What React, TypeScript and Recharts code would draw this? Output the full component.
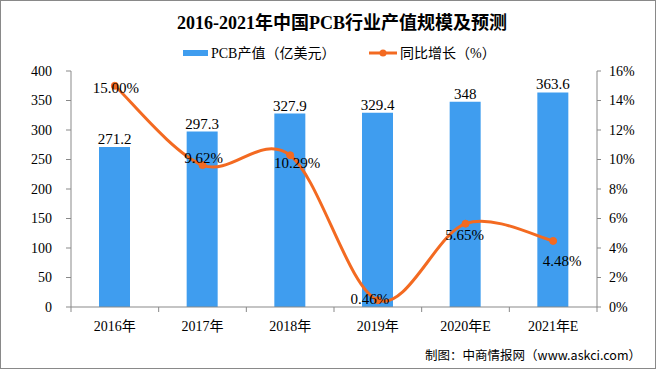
import React from 'react';
import { ComposedChart, Bar, Line, XAxis, YAxis, LabelList } from 'recharts';

const years = ['2016年', '2017年', '2018年', '2019年', '2020年E', '2021年E'];
const pcbValues = [271.2, 297.3, 327.9, 329.4, 348, 363.6];
const growthPct = [15.0, 9.62, 10.29, 0.46, 5.65, 4.48];
const leftTicks = [0, 50, 100, 150, 200, 250, 300, 350, 400];
const rightTicks = [0, 2, 4, 6, 8, 10, 12, 14, 16];

const titleText = '2016-2021年中国PCB行业产值规模及预测';
const legendBar = 'PCB产值（亿美元）';
const legendLine = '同比增长（%）';
const footerText = '制图：中商情报网（www.askci.com）';

// label nudges (dx, dy) for the growth labels, relative to each point
const growthLabelNudge = [
  [1, 2],
  [1, -7],
  [7, 8],
  [-8, -1],
  [-1, 11],
  [9, 20],
];

const W = 657;
const H = 371;
const M_TOP = 71;
const M_BOTTOM = 34;
const X_H = 30;
const LEFT_W = 71;
const RIGHT_W = 60;
const PLOT_BOTTOM = H - M_BOTTOM - X_H;
const BAND = (W - LEFT_W - RIGHT_W) / years.length;

const BAR_COLOR = '#3F9DEF';
const LINE_COLOR = '#F36A21';
const AXIS_COLOR = '#898989';
const SERIF = "'Liberation Serif', 'Noto Sans CJK SC', serif";

const data = years.map((y, i) => ({ year: y, pcb: pcbValues[i], growth: growthPct[i] }));

const excelCurve = (context: any) => {
  let pts: number[][] = [];
  return {
    areaStart() {},
    areaEnd() {},
    lineStart() {
      pts = [];
    },
    lineEnd() {
      const n = pts.length;
      if (!n) return;
      context.moveTo(pts[0][0], pts[0][1]);
      for (let i = 0; i < n - 1; i++) {
        const p0 = pts[i - 1] || pts[i];
        const p1 = pts[i];
        const p2 = pts[i + 1];
        const p3 = pts[i + 2] || p2;
        context.bezierCurveTo(
          p1[0] + (p2[0] - p0[0]) / 6,
          p1[1] + (p2[1] - p0[1]) / 6,
          p2[0] - (p3[0] - p1[0]) / 6,
          p2[1] - (p3[1] - p1[1]) / 6,
          p2[0],
          p2[1]
        );
      }
    },
    point(x: number, y: number) {
      pts.push([+x, +y]);
    },
  };
};

const XTick = (props: any) => {
  const { x, payload, index } = props;
  const half = BAND / 2;
  return (
    <g>
      <text
        x={x}
        y={PLOT_BOTTOM + 19}
        textAnchor="middle"
        dominantBaseline="central"
        fontFamily={SERIF}
        fontSize={14}
        fill="#000"
      >
        {payload.value}
      </text>
      <line x1={x - half} x2={x - half} y1={PLOT_BOTTOM} y2={PLOT_BOTTOM + 5} stroke={AXIS_COLOR} />
      {index === years.length - 1 && (
        <line x1={x + half} x2={x + half} y1={PLOT_BOTTOM} y2={PLOT_BOTTOM + 5} stroke={AXIS_COLOR} />
      )}
    </g>
  );
};

const GrowthLabel = (props: any) => {
  const { x, y, value, index } = props;
  const nudge = growthLabelNudge[index] || [0, 0];
  return (
    <text
      x={x + nudge[0]}
      y={y + nudge[1]}
      textAnchor="middle"
      dominantBaseline="central"
      fontFamily={SERIF}
      fontSize={15}
      fill="#000"
    >
      {Number(value).toFixed(2) + '%'}
    </text>
  );
};

export default function App() {
  return (
    <div
      style={{
        position: 'absolute',
        left: 0,
        top: 0,
        width: W,
        height: H,
        background: '#fff',
        overflow: 'hidden',
      }}
    >
      <svg width={W} height={H} style={{ position: 'absolute', left: 0, top: 0 }}>
        <text
          x={342}
          y={23}
          textAnchor="middle"
          dominantBaseline="central"
          fontFamily={SERIF}
          fontWeight="bold"
          fontSize={18}
          fill="#000"
        >
          {titleText}
        </text>
        <rect x={183} y={50} width={25} height={6} fill={BAR_COLOR} />
        <text x={211} y={53} dominantBaseline="central" fontFamily={SERIF} fontSize={14} fill="#000">
          {legendBar}
        </text>
        <line x1={369} x2={397} y1={53} y2={53} stroke={LINE_COLOR} strokeWidth={3} />
        <circle cx={383} cy={53} r={3.5} fill={LINE_COLOR} />
        <text x={400} y={53} dominantBaseline="central" fontFamily={SERIF} fontSize={14} fill="#000">
          {legendLine}
        </text>
        <text
          x={641}
          y={354}
          textAnchor="end"
          dominantBaseline="central"
          fontFamily="'Noto Sans CJK SC', sans-serif"
          fontSize={12.5}
          fill="#000"
        >
          {footerText}
        </text>
      </svg>
      <div style={{ position: 'absolute', left: 0, top: 0 }}>
        <ComposedChart
          width={W}
          height={H}
          data={data}
          margin={{ top: M_TOP, right: 0, bottom: M_BOTTOM, left: 0 }}
        >
          <XAxis
            dataKey="year"
            height={X_H}
            axisLine={{ stroke: AXIS_COLOR }}
            tickLine={false}
            tick={<XTick />}
            interval={0}
          />
          <YAxis
            yAxisId="left"
            orientation="left"
            width={LEFT_W}
            domain={[0, 400]}
            ticks={leftTicks}
            interval={0}
            axisLine={{ stroke: AXIS_COLOR }}
            tickLine={{ stroke: AXIS_COLOR }}
            tickSize={5}
            tickMargin={14}
            tick={{ fontFamily: SERIF, fontSize: 14, fill: '#000' }}
          />
          <YAxis
            yAxisId="right"
            orientation="right"
            width={RIGHT_W}
            domain={[0, 16]}
            ticks={rightTicks}
            interval={0}
            axisLine={{ stroke: AXIS_COLOR }}
            tickLine={{ stroke: AXIS_COLOR }}
            tickSize={4}
            tickMargin={8}
            tickFormatter={(v: number) => `${v}%`}
            tick={{ fontFamily: SERIF, fontSize: 14, fill: '#000', textAnchor: 'start' }}
          />
          <Bar yAxisId="left" dataKey="pcb" fill={BAR_COLOR} barSize={31} isAnimationActive={false}>
            <LabelList
              dataKey="pcb"
              position="top"
              offset={3}
              style={{ fontFamily: SERIF, fontSize: 15, fill: '#000' }}
            />
          </Bar>
          <Line
            yAxisId="right"
            dataKey="growth"
            type={excelCurve as any}
            stroke={LINE_COLOR}
            strokeWidth={3}
            dot={{ r: 3.5, fill: LINE_COLOR, stroke: LINE_COLOR, strokeWidth: 1 }}
            activeDot={false}
            isAnimationActive={false}
          >
            <LabelList dataKey="growth" content={<GrowthLabel />} />
          </Line>
        </ComposedChart>
      </div>
      <div
        style={{
          position: 'absolute',
          left: 0,
          top: 0,
          width: 656,
          height: 369,
          boxSizing: 'border-box',
          border: `1px solid ${AXIS_COLOR}`,
          pointerEvents: 'none',
        }}
      />
    </div>
  );
}
